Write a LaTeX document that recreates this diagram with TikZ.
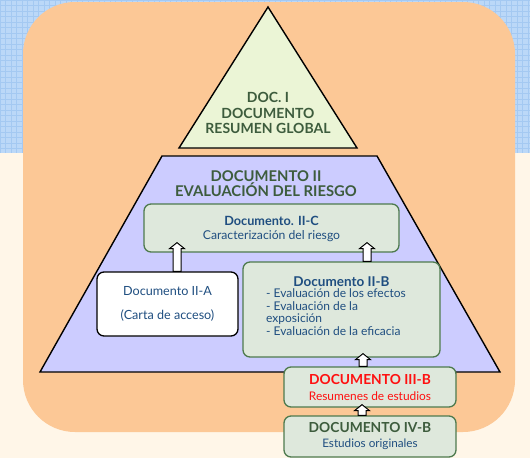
\documentclass[tikz,border=0pt]{standalone}
\usepackage{fontspec}
\setmainfont{Lato}
\usetikzlibrary{calc}
\definecolor{bgblue}{HTML}{BBD8F8}
\definecolor{gridblue}{HTML}{A4C9F2}
\definecolor{bgcream}{HTML}{FFF6E8}
\definecolor{orangebg}{HTML}{FCC896}
\definecolor{lavender}{HTML}{CCCCFF}
\definecolor{trifill}{HTML}{EBF5D6}
\definecolor{boxfill}{HTML}{DEE8DC}
\definecolor{boxline}{HTML}{4E7A4E}
\definecolor{txtgreen}{HTML}{3D5C3D}
\definecolor{txtblue}{HTML}{1F4E80}
\definecolor{txtred}{HTML}{FF1010}
\tikzset{
  greenbox/.style={draw=boxline, line width=1.3pt, fill=boxfill, rounded corners=7pt, inner sep=0pt},
  whitebox/.style={draw=black, line width=1.3pt, fill=white, rounded corners=7pt, inner sep=0pt},
  shapeline/.style={draw=black, line width=1.4pt},
  blockarr/.style={draw=black, fill=white, line width=1pt},
  ttl/.style={text=txtgreen, align=center, inner sep=0pt},
  txt/.style={text=txtblue, inner sep=0pt}
}
\newcommand\blockarrow[2]{%
  \draw[blockarr] let \p1=#1, \p2=#2 in
    (\x1-4pt,\y1) -- (\x1-4pt,\y2-6pt) -- (\x1-7.5pt,\y2-6pt) -- (\x1,\y2)
    -- (\x1+7.5pt,\y2-6pt) -- (\x1+4pt,\y2-6pt) -- (\x1+4pt,\y1) -- cycle;}
\begin{document}
\begin{tikzpicture}[x=1pt,y=-1pt]
\useasboundingbox (0,0) rectangle (530,458);
% background
\fill[bgcream] (0,0) rectangle (530,458);
\fill[bgblue] (0,0) rectangle (530,153);
\foreach \gx in {0,5.5,...,530} \draw[gridblue, line width=0.7pt] (\gx,0) -- (\gx,153);
\foreach \gy in {0,5.5,...,153} \draw[gridblue, line width=0.7pt] (0,\gy) -- (530,\gy);
\fill[orangebg, rounded corners=52pt] (23,2) rectangle (515,432);
% triangle
\draw[shapeline, fill=trifill] (268,7) -- (357,148) -- (179,148) -- cycle;
\node[ttl, font=\bfseries\fontsize{14}{15.5}\selectfont] (doc1) at (268,113) {DOC. I\\DOCUMENTO\\RESUMEN GLOBAL};
% trapezoid
\draw[shapeline, fill=lavender] (162,156) -- (377,156) -- (500,372) -- (40,372) -- cycle;
\node[ttl, font=\bfseries\fontsize{14.8}{12.5}\selectfont] (doc2) at (266,184) {DOCUMENTO II\\EVALUACIÓN DEL RIESGO};
% boxes
\node[greenbox, minimum width=255pt, minimum height=48pt] (c) at (271.5,228) {};
\node[txt, align=center, font=\fontsize{12.2}{14}\selectfont] (ctext) at ($(c.center)+(0,0.5)$) {{\bfseries\fontsize{12.7}{14}\selectfont Documento. II-C}\\Caracterización del riesgo};
\node[whitebox, minimum width=141pt, minimum height=64pt] (a) at (167.5,304) {};
\node[txt, align=center, font=\fontsize{12.6}{13}\selectfont] (atext) at (a.center) {Documento II-A\\[11pt](Carta de acceso)};
\node[greenbox, minimum width=197pt, minimum height=95pt] (b) at (341.5,309.5) {};
\node[txt, font=\bfseries\fontsize{13.5}{14}\selectfont, anchor=base] (btitle) at (341.5,286.5) {Documento II-B};
\node[txt, align=left, anchor=base west, font=\fontsize{12}{12.6}\selectfont] (blist) at (266,335.5) {- Evaluación de los efectos\\- Evaluación de la\\exposición\\- Evaluación de la eficacia};
\node[greenbox, minimum width=172pt, minimum height=40pt] (d3) at (370,387) {};
\node[txt, align=center, text=txtred, font=\fontsize{11.9}{16}\selectfont] (d3text) at (d3.center) {{\bfseries\fontsize{13.8}{16}\selectfont DOCUMENTO III-B}\\Resumenes de estudios};
\node[greenbox, minimum width=172pt, minimum height=41pt] (d4) at (370,436.5) {};
\node[txt, align=center, font=\fontsize{11.7}{15}\selectfont] (d4text) at ($(d4.center)+(0,-0.5)$) {{\bfseries\fontsize{13.8}{15}\selectfont\color{txtgreen}DOCUMENTO IV-B}\\Estudios originales};
% block arrows
\blockarrow{($(a.north)+(9.5,0)$)}{($(c.south)+(-94.5,-10)$)}
\blockarrow{($(b.north)+(25.5,0)$)}{($(c.south)+(95.5,-10)$)}
\blockarrow{($(d3.north)+(-7,0)$)}{($(b.south)+(21.5,-4)$)}
\blockarrow{($(d4.north)+(-8,0)$)}{($(d3.south)+(-8,-3)$)}
\end{tikzpicture}
\end{document}
